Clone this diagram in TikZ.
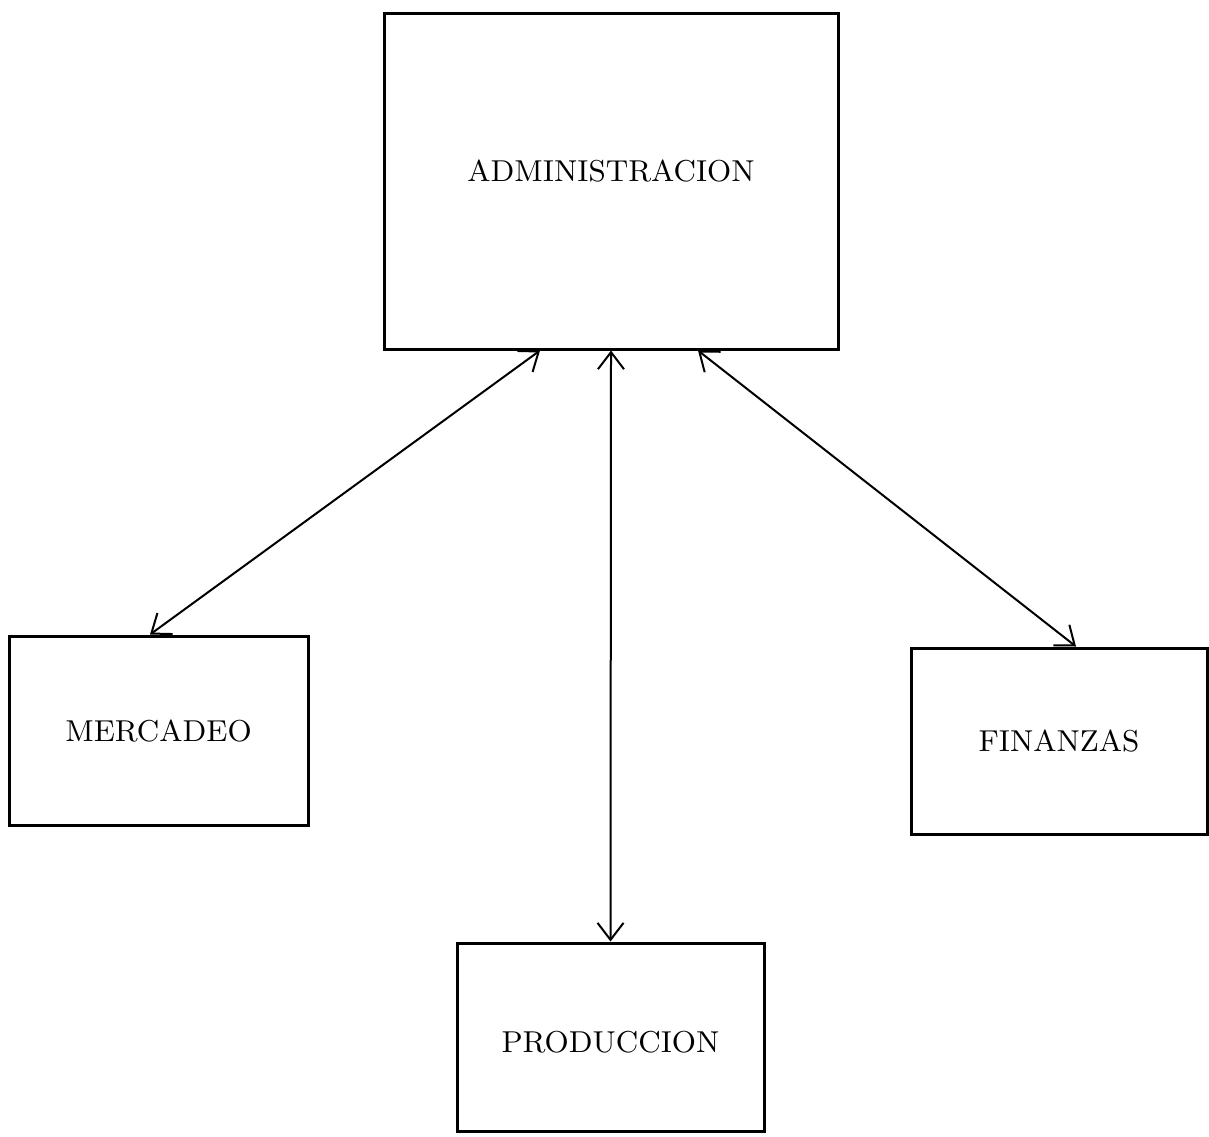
\documentclass[tikz,border=0pt]{standalone}
\usepackage{fontspec}
\usepackage{tikz}
\usetikzlibrary{arrows.meta}
\tikzstyle{area} = [rectangle, draw=black, line width=0.3mm, font=\fontsize{8.6}{10}\selectfont\addfontfeatures{LetterSpace=6}]
\tikzstyle{arrow} = [line width=0.2mm, <->, >={Straight Barb[length=1.7mm,width=2.6mm]}]

\begin{document}
\begin{tikzpicture}[x=0.1mm, y=-0.1mm]
	\useasboundingbox (0,0) rectangle (1209,1136);

	\node (admin) [area, minimum width=45.4mm, minimum height=33.6mm, text depth=2mm] at (611,181) {ADMINISTRACION};
	\node (merc) [area, minimum width=29.9mm, minimum height=18.9mm] at (158.5,730.5) {MERCADEO};
	\node (fin) [area, minimum width=29.6mm, minimum height=18.6mm] at (1059,741) {FINANZAS};
	\node (prod) [area, minimum width=30.7mm, minimum height=18.8mm, text height=3.2mm] at (610.5,1037) {PRODUCCION};

	\draw [arrow] ([xshift=-7.1mm]admin.south) -- ([xshift=-0.85mm]merc.north);
	\draw [arrow] (admin.south) -- (prod.north);
	\draw [arrow] ([xshift=8.7mm]admin.south) -- ([xshift=1.7mm]fin.north);

\end{tikzpicture}
\end{document}
